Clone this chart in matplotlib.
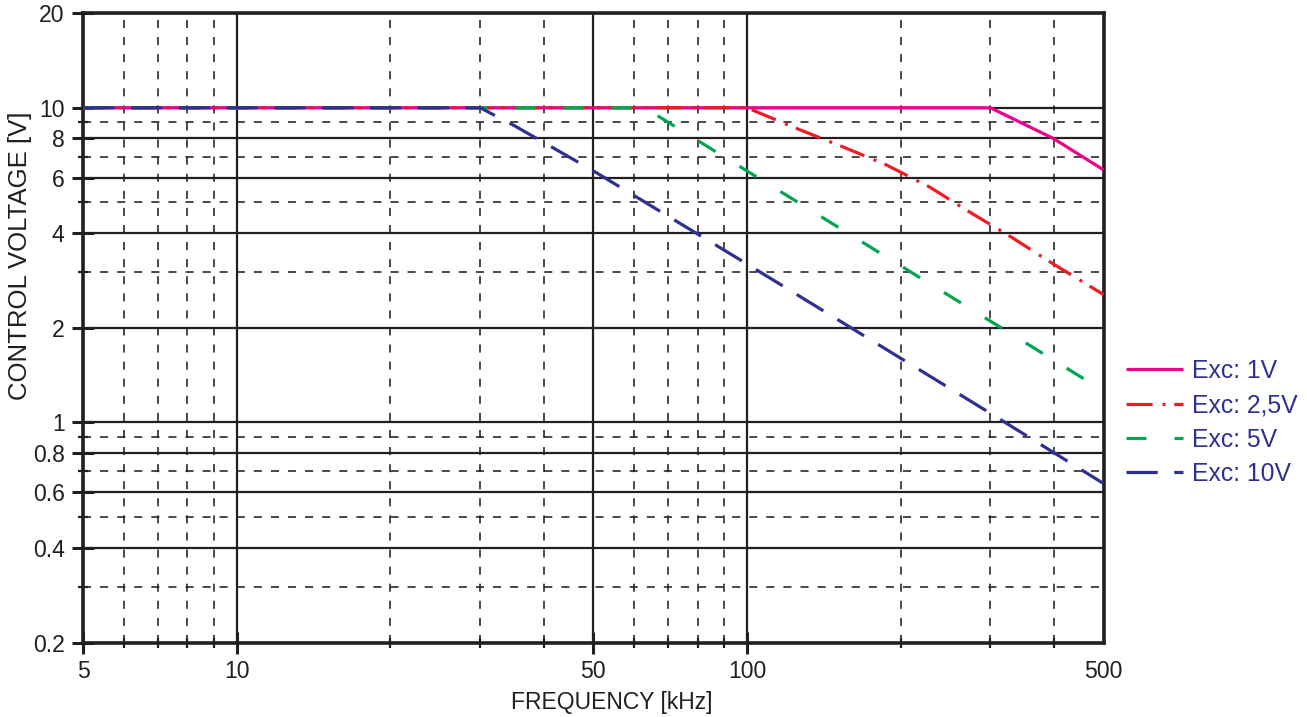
import matplotlib
matplotlib.use("Agg")
import matplotlib.pyplot as plt
from matplotlib.ticker import FixedLocator, FixedFormatter, NullFormatter

plt.rcParams['font.family'] = ['Liberation Sans', 'DejaVu Sans']
plt.rcParams['lines.scale_dashes'] = False

# ---- data ----
f_1v = [5, 300, 398, 500]
v_1v = [10, 10, 8.0, 6.35]

f_25v = [5, 100, 125, 153, 187, 228, 274, 330, 396, 500]
v_25v = [10, 10, 8.6, 7.55, 6.6, 5.6, 4.65, 3.88, 3.21, 2.55]

f_5v = [5, 63, 500]
v_5v = [10, 10, 1.26]

f_10v = [5, 30, 35, 50, 100, 300, 500]
v_10v = [10, 10, 8.77, 6.3, 3.19, 1.07, 0.64]

labels = ['Exc: 1V', 'Exc: 2,5V', 'Exc: 5V', 'Exc: 10V']
colors = ['#EC008C', '#ED1C24', '#00A651', '#2E3192']

x_major = [5, 10, 50, 100, 500]
x_major_labels = ['5', '10', '50', '100', '500']
x_minor = [6, 7, 8, 9, 20, 30, 40, 60, 70, 80, 90, 200, 300, 400]
y_major = [0.2, 0.4, 0.6, 0.8, 1, 2, 4, 6, 8, 10, 20]
y_major_labels = ['0.2', '0.4', '0.6', '0.8', '1', '2', '4', '6', '8', '10', '20']
y_minor = [0.3, 0.5, 0.7, 0.9, 3, 5, 7, 9]

ink = '#231F20'

fig = plt.figure(figsize=(13.07, 7.17), dpi=100)
ax = fig.add_axes([83.3 / 1307, 1 - 642.5 / 717, (1103.5 - 83.3) / 1307, (642.5 - 13) / 717])
ax.set_xscale('log')
ax.set_yscale('log')
ax.set_xlim(5, 500)
ax.set_ylim(0.2, 20)

ax.xaxis.set_major_locator(FixedLocator(x_major))
ax.xaxis.set_major_formatter(FixedFormatter(x_major_labels))
ax.xaxis.set_minor_locator(FixedLocator(x_minor))
ax.xaxis.set_minor_formatter(NullFormatter())
ax.yaxis.set_major_locator(FixedLocator(y_major))
ax.yaxis.set_major_formatter(FixedFormatter(y_major_labels))
ax.yaxis.set_minor_locator(FixedLocator(y_minor))
ax.yaxis.set_minor_formatter(NullFormatter())

ax.grid(True, which='major', color=ink, linestyle='-', linewidth=1.6, zorder=1)
ax.grid(True, which='minor', color=ink, linestyle=(0, (5.8, 6.5)), linewidth=1.15, zorder=1)
ax.set_axisbelow(True)

ax.tick_params(which='major', direction='inout', length=15.8, width=2.2, color=ink,
               labelsize=16.6, labelcolor=ink, pad=5.5)
ax.tick_params(which='minor', direction='inout', length=7.2, width=1.6, color=ink)
ax.tick_params(axis='x', which='major', pad=4.5)
ax.xaxis.get_major_ticks()[-1].tick1line.set_visible(False)

for s in ax.spines.values():
    s.set_linewidth(2.6)
    s.set_color(ink)

styles = ['-', (0, (18.7, 7.2, 2.2, 6.3)), (0, (14.4, 20.2)), (0, (22.5, 11.9))]
data = [(f_1v, v_1v), (f_25v, v_25v), (f_5v, v_5v), (f_10v, v_10v)]
handles = []
for (fx, vy), c, ls, lab in zip(data, colors, styles, labels):
    h, = ax.plot(fx, vy, color=c, linestyle=ls, linewidth=2.3, label=lab,
                 solid_capstyle='butt', dash_capstyle='butt', zorder=3, clip_on=True)
    handles.append(h)

leg = fig.legend(handles=handles, labels=labels, loc='upper left',
                 bbox_to_anchor=(1126 / 1307, 1 - 359 / 717), frameon=False,
                 fontsize=17.8, handlelength=2.3, handletextpad=0.36,
                 labelspacing=0.42, borderaxespad=0, borderpad=0)
for t in leg.get_texts():
    t.set_color('#2E3192')

fig.text(612 / 1307, 1 - 702 / 717, 'FREQUENCY [kHz]', ha='center', va='center',
         fontsize=16.5, color=ink)
fig.text(20 / 1307, 1 - 256 / 717, 'CONTROL VOLTAGE [V]', ha='center', va='center',
         rotation=90, fontsize=18.5, color=ink)

fig.savefig('out.png', dpi=100)
